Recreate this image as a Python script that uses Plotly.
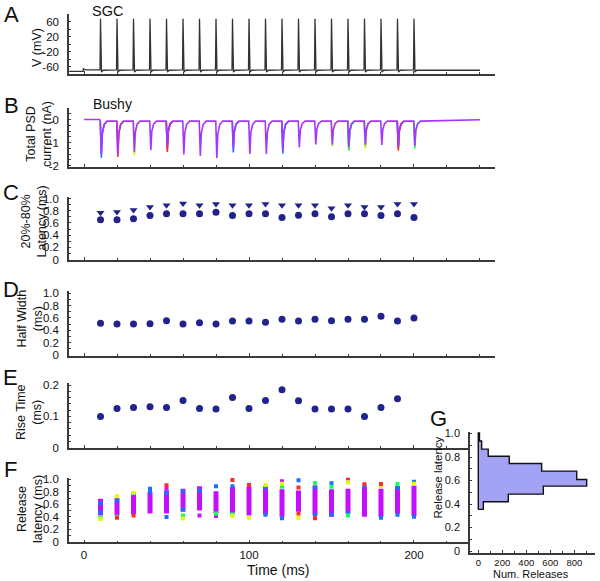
import plotly.graph_objects as go

W, H = 600, 581

# ---------------- data ----------------
event_times_ms = [10, 20, 30, 40, 50, 60, 70, 80, 90, 100,
                  110, 120, 130, 140, 150, 160, 170, 180, 190, 200]

# A: SGC membrane potential (mV)
sgc_start_ms, sgc_end_ms = -9, 240
sgc_pre_mV = -73
sgc_onset_mV = -66
sgc_rest_mV = -69
sgc_peak_mV = 67
sgc_trough_mV = -75
sgc_after_mV = -70
spike_offsets_ms = [-0.3, 0.0, 0.6, 1.6]          # spike template (relative to spike time)
spike_levels_mV = ["rest", "peak", "trough", "after"]

# B: total PSD current (nA), purple trace peaks per event
psd_peak_main = [-1.50, -1.50, -1.42, -1.33, -1.15, -1.52, -1.58, -1.67, -1.25, -1.50,
                 -1.50, -1.35, -1.21, -1.08, -1.10, -1.20, -1.10, -1.11, -1.15, -1.15]
psd_baseline_pre = 0.0
psd_baseline = -0.07
psd_baseline_end = -0.01
epsc_offsets_ms = [-0.15, 0.5, 1.1, 2.2, 4.0]
epsc_fraction = [0.0, 1.0, 0.35, 0.1, 0.0]
# coloured trials that reach deeper than the purple one
tip_times = [10, 20, 30, 50, 50, 90, 120, 150, 160, 160, 170, 170, 190, 190, 200]
tip_peaks = [-1.66, -1.63, -1.55, -1.41, -1.30, -1.43, -1.48, -1.18, -1.36, -1.30,
             -1.26, -1.20, -1.36, -1.25, -1.26]
tip_colors = ["blue", "red", "yellow", "red", "blue", "blue", "blue", "yellow", "green", "blue",
              "yellow", "blue", "red", "blue", "green"]

# C: 20%-80% latency (ms)
latency_circle = [0.65, 0.65, 0.667, 0.72, 0.75, 0.75, 0.75, 0.776, 0.72, 0.75,
                  0.75, 0.69, 0.727, 0.75, 0.70, 0.75, 0.75, 0.72, 0.75, 0.69]
latency_triangle = [0.765, 0.78, 0.81, 0.86, 0.89, 0.92, 0.89, 0.91, 0.89, 0.89,
                    0.91, 0.89, 0.89, 0.89, 0.84, 0.89, 0.86, 0.86, 0.91, 0.91]

# D: half width (ms)
half_width = [0.514, 0.503, 0.503, 0.508, 0.557, 0.503, 0.524, 0.503, 0.551, 0.551,
              0.530, 0.578, 0.551, 0.578, 0.557, 0.578, 0.578, 0.627, 0.551, 0.600]

# E: rise time (ms) (no value at 200 ms)
rise_times_ms = [10, 20, 30, 40, 50, 60, 70, 80, 90, 100,
                 110, 120, 130, 140, 150, 160, 170, 180, 190]
rise_time = [0.100, 0.125, 0.129, 0.131, 0.129, 0.151, 0.125, 0.124, 0.161, 0.125,
             0.151, 0.186, 0.150, 0.124, 0.124, 0.124, 0.100, 0.129, 0.157]

# F: release latency (ms) - dense core range per stimulus and individual outliers
release_lo = [0.42, 0.42, 0.44, 0.45, 0.45, 0.48, 0.50, 0.45, 0.45, 0.42,
              0.43, 0.40, 0.48, 0.42, 0.40, 0.45, 0.40, 0.40, 0.45, 0.41]
release_hi = [0.69, 0.70, 0.755, 0.80, 0.82, 0.85, 0.89, 0.81, 0.88, 0.88,
              0.88, 0.84, 0.82, 0.90, 0.84, 0.85, 0.88, 0.85, 0.89, 0.90]
out_t = [10, 10, 10, 10,
         20, 20, 20, 20,
         30, 30, 30,
         40, 40,
         50, 50, 50, 50,
         60, 60, 60, 60,
         70, 70,
         80, 80, 80,
         90, 90, 90, 90,
         100, 100,
         110, 110, 110,
         120, 120, 120, 120,
         130, 130, 130, 130,
         140, 140, 140, 140,
         150, 150, 150,
         160, 160, 160, 160,
         170, 170,
         180, 180, 180,
         190, 190, 190,
         200, 200, 200]
out_v = [0.62, 0.47, 0.385, 0.365,
         0.73, 0.66, 0.40, 0.385,
         0.785, 0.765, 0.418,
         0.85, 0.80,
         0.905, 0.85, 0.78, 0.397,
         0.81, 0.52, 0.42, 0.37,
         0.82, 0.418,
         0.89, 0.45, 0.41,
         0.99, 0.89, 0.44, 0.41,
         0.91, 0.385,
         0.91, 0.87, 0.43,
         0.97, 0.93, 0.88, 0.375,
         0.985, 0.87, 0.45, 0.385,
         0.94, 0.87, 0.43, 0.375,
         0.935, 0.88, 0.43,
         1.017, 0.947, 0.46, 0.42,
         0.92, 0.89,
         0.925, 0.89, 0.385,
         0.925, 0.86, 0.43,
         0.96, 0.93, 0.40]
out_c = ["blue", "blue", "green", "yellow",
         "yellow", "blue", "green", "red",
         "yellow", "blue", "red",
         "blue", "blue",
         "red", "magenta", "blue", "blue",
         "blue", "blue", "green", "yellow",
         "blue", "magenta",
         "blue", "green", "magenta",
         "red", "blue", "green", "yellow",
         "red", "yellow",
         "yellow", "blue", "blue",
         "magenta", "yellow", "green", "blue",
         "blue", "red", "red", "yellow",
         "green", "blue", "blue", "red",
         "blue", "green", "blue",
         "red", "yellow", "blue", "green",
         "red", "blue",
         "red", "yellow", "blue",
         "green", "blue", "blue",
         "blue", "yellow", "blue"]

# G: histogram of release latency
hist_edges = [0.354, 0.419, 0.484, 0.552, 0.609, 0.680, 0.745, 0.807, 0.867, 0.937, 1.005]
hist_counts = [42, 250, 542, 903, 820, 528, 258, 83, 28, 10]

# tick labels
a_ticks = [-60, -20, 20, 60]
a_ticktext = ["-60", "-20", "20", "60"]
b_ticks = [0, -1, -2]
b_ticktext = ["0", "-1", "-2"]
unit_ticks = [0, 0.2, 0.4, 0.6, 0.8, 1.0]
unit_ticktext = ["0", "0.2", "0.4", "0.6", "0.8", "1.0"]
e_ticks = [0, 0.1, 0.2]
e_ticktext = ["0", "0.1", "0.2"]
f_xticks = [0, 100, 200]
f_xticktext = ["0", "100", "200"]
g_xticks = [0, 200, 400, 600, 800]
g_xticktext = ["0", "200", "400", "600", "800"]

# ---------------- styles ----------------
FONT = "Liberation Sans, Arial, Helvetica, sans-serif"
AX = "#3a3a3a"
NAVY = "#22228c"
COL = {"blue": "#1f6fff", "red": "#ff2a2a", "yellow": "#dcff00",
       "green": "#19ff5a", "magenta": "#cc11ff"}


def px(x):
    return x / W


def py(y):
    return 1 - y / H


fig = go.Figure()

# ---- A trace
lv = {"rest": sgc_rest_mV, "peak": sgc_peak_mV, "trough": sgc_trough_mV, "after": sgc_after_mV}
ax_t = [sgc_start_ms, -0.5, -0.4, 1.0]
ax_v = [sgc_pre_mV, sgc_pre_mV, sgc_onset_mV, sgc_rest_mV]
for s in event_times_ms:
    for o, k in zip(spike_offsets_ms, spike_levels_mV):
        ax_t.append(s + o)
        ax_v.append(lv[k])
ax_t.append(sgc_end_ms)
ax_v.append(sgc_after_mV)
fig.add_trace(go.Scatter(x=ax_t, y=ax_v, mode="lines", line=dict(color="#333333", width=1.3),
                         xaxis="x", yaxis="y", hoverinfo="skip"))


# ---- B traces
def epsc_trace(times, peaks, base_pre, base, base_end, full=True):
    xs, ys = [], []
    if full:
        xs += [sgc_start_ms + 9, times[0] - 0.5]
        ys += [base_pre, base_pre]
    for t, p in zip(times, peaks):
        if not full:
            xs.append(None)
            ys.append(None)
        for o, f in zip(epsc_offsets_ms, epsc_fraction):
            xs.append(t + o)
            ys.append(base + f * (p - base))
    if full:
        xs.append(sgc_end_ms)
        ys.append(base_end)
    return xs, ys


for cname in ["blue", "red", "yellow", "green"]:
    tt = [t for t, c in zip(tip_times, tip_colors) if c == cname]
    pp = [p for p, c in zip(tip_peaks, tip_colors) if c == cname]
    if tt:
        xs, ys = epsc_trace(tt, pp, psd_baseline_pre, psd_baseline, psd_baseline_end, full=False)
        fig.add_trace(go.Scatter(x=xs, y=ys, mode="lines", line=dict(color=COL[cname], width=1.6),
                                 xaxis="x2", yaxis="y2", hoverinfo="skip", connectgaps=False))
xs, ys = epsc_trace(event_times_ms, psd_peak_main, psd_baseline_pre, psd_baseline, psd_baseline_end)
fig.add_trace(go.Scatter(x=xs, y=ys, mode="lines", line=dict(color="#a535ff", width=1.6),
                         xaxis="x2", yaxis="y2", hoverinfo="skip"))

# ---- C
fig.add_trace(go.Scatter(x=event_times_ms, y=latency_triangle, mode="markers",
                         marker=dict(symbol="triangle-down", size=7, color=NAVY),
                         xaxis="x3", yaxis="y3"))
fig.add_trace(go.Scatter(x=event_times_ms, y=latency_circle, mode="markers",
                         marker=dict(symbol="circle", size=7, color=NAVY),
                         xaxis="x3", yaxis="y3"))
# ---- D
fig.add_trace(go.Scatter(x=event_times_ms, y=half_width, mode="markers",
                         marker=dict(symbol="circle", size=7, color=NAVY),
                         xaxis="x4", yaxis="y4"))
# ---- E
fig.add_trace(go.Scatter(x=rise_times_ms, y=rise_time, mode="markers",
                         marker=dict(symbol="circle", size=7, color=NAVY),
                         xaxis="x5", yaxis="y5"))

# ---- F
bx, by = [], []
for t, lo, hi in zip(event_times_ms, release_lo, release_hi):
    bx += [t, t, None]
    by += [lo, hi, None]
fig.add_trace(go.Scatter(x=bx, y=by, mode="lines", line=dict(color="#c40fff", width=5),
                         xaxis="x6", yaxis="y6", hoverinfo="skip"))
for cname in ["magenta", "blue", "green", "yellow", "red"]:
    tt = [t for t, c in zip(out_t, out_c) if c == cname]
    vv = [v for v, c in zip(out_v, out_c) if c == cname]
    fig.add_trace(go.Scatter(x=tt, y=vv, mode="markers",
                             marker=dict(symbol="square", size=4, color=COL[cname]),
                             xaxis="x6", yaxis="y6"))

# ---- G histogram (stepped outline)
gx, gy = [0], [hist_edges[0]]
for i, c in enumerate(hist_counts):
    gx += [c, c]
    gy += [hist_edges[i], hist_edges[i + 1]]
gx += [0, 0]
gy += [hist_edges[-1], hist_edges[0]]
fig.add_trace(go.Scatter(x=gx, y=gy, mode="lines", fill="toself", fillcolor="#a3a3f5",
                         line=dict(color="#111111", width=1.4), xaxis="x7", yaxis="y7",
                         hoverinfo="skip"))

# ---------------- axes ----------------
XDOM = [px(69), px(495)]
XRANGE = [-9.1, 249.1]


def xax(anchor, labels=False):
    d = dict(domain=XDOM, range=XRANGE, anchor=anchor, showline=True, linecolor=AX, linewidth=1.5,
             ticks="inside", ticklen=3, tickwidth=1, tickcolor=AX, showgrid=False, zeroline=False,
             tickmode="array", tickvals=f_xticks, ticktext=f_xticktext, showticklabels=labels,
             tickfont=dict(family=FONT, size=11.5, color="#111"), automargin=False,
             ticklabelstandoff=1,
             minor=dict(ticks="inside", ticklen=2, tickcolor=AX, dtick=20, tick0=0, showgrid=False))
    return d


def yax(anchor, top, bottom, rng, tv, tt, minor_dtick, size=11.5):
    return dict(domain=[py(bottom), py(top)], range=rng, anchor=anchor, showline=True, linecolor=AX,
                linewidth=1.5, ticks="inside", ticklen=2.5, tickwidth=1, tickcolor=AX,
                showgrid=False, zeroline=False, tickmode="array", tickvals=tv, ticktext=tt,
                tickfont=dict(family=FONT, size=size, color="#111"), automargin=False,
                ticklabelstandoff=6,
                minor=dict(ticks="inside", ticklen=2.5, tickcolor=AX, dtick=minor_dtick, tick0=0,
                           showgrid=False))


layout = dict(
    width=W, height=H, margin=dict(l=0, r=0, t=0, b=0, autoexpand=False),
    paper_bgcolor="white", plot_bgcolor="white", showlegend=False,
    font=dict(family=FONT, color="#111"),
    xaxis=xax("y"),
    yaxis=yax("x", 14, 74, [-80, 80], a_ticks, a_ticktext, 20),
    xaxis2=xax("y2"),
    yaxis2=yax("x2", 108, 167, [-2.065, 0.5], b_ticks, b_ticktext, 0.25),
    xaxis3=xax("y3"),
    yaxis3=yax("x3", 197.3, 260, [-0.008, 1.02], unit_ticks, unit_ticktext, 0.1),
    xaxis4=xax("y4"),
    yaxis4=yax("x4", 290.7, 355.7, [-0.011, 1.042], unit_ticks, unit_ticktext, 0.1),
    xaxis5=xax("y5"),
    yaxis5=yax("x5", 383.3, 448, [-0.0016, 0.2064], e_ticks, e_ticktext, 0.02),
    xaxis6=xax("y6", labels=True),
    yaxis6=yax("x6", 477.7, 542.3, [-0.0096, 1.0256], unit_ticks, unit_ticktext, 0.1),
    xaxis7=dict(domain=[px(470), px(595)], range=[-69, 972.5], anchor="y7", showline=True,
                linecolor=AX, linewidth=1.5, ticks="inside", ticklen=3, tickcolor=AX,
                showgrid=False, zeroline=False, tickmode="array", tickvals=g_xticks,
                ticktext=g_xticktext, tickfont=dict(family=FONT, size=9.5, color="#111"),
                automargin=False, ticklabelstandoff=0,
                minor=dict(ticks="inside", ticklen=2, tickcolor=AX, dtick=100, tick0=0)),
    yaxis7=yax("x7", 432, 553, [-0.017, 1.013], unit_ticks, unit_ticktext, 0.1, size=11),
)
fig.update_layout(**layout)


def note(text, x, y, size, angle=0):
    fig.add_annotation(text=text, x=px(x), y=py(y), xref="paper", yref="paper", showarrow=False,
                       xanchor="center", yanchor="middle", textangle=angle,
                       font=dict(family=FONT, size=size, color="#111"))


for letter, (lx, ly) in zip("ABCDEFG", [(11.5, 14.5), (11, 105), (11, 193), (11, 289),
                                        (10, 377), (10, 469), (438, 418)]):
    note(letter, lx, ly, 22)

note("SGC", 107.5, 11, 14.5)
note("Bushy", 112, 104, 14)
note("V (mV)", 37, 48, 12.5, -90)
note("Total PSD<br>current (nA)", 39, 134, 12.5, -90)
note("20%-80%<br>Latency (ms)", 33.5, 222, 12.5, -90)
note("Half Width<br>(ms)", 29, 318.5, 12.5, -90)
note("Rise Time<br>(ms)", 29, 412, 12.5, -90)
note("Release<br>latency (ms)", 30, 509, 12.5, -90)
note("Time (ms)", 278, 570, 14)
note("Num. Releases", 531, 574, 11)
note("Release latency", 437.5, 478, 11.5, -90)

fig.write_html("out.html", config={"displayModeBar": False},
               post_script="document.body.style.margin='0px';document.body.style.overflow='hidden';")
